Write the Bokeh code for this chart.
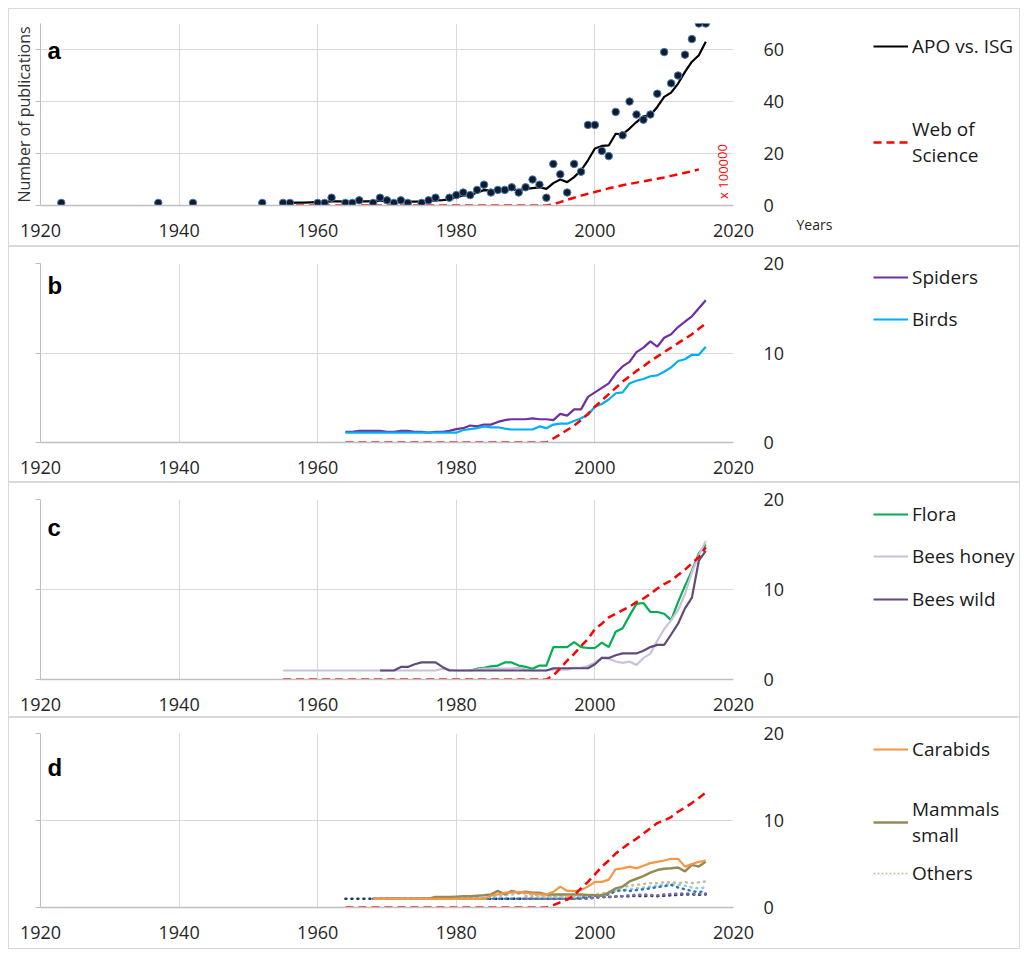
from bokeh.plotting import figure
from bokeh.layouts import column, row
from bokeh.models import Range1d, LinearAxis, FixedTicker, Legend, LegendItem, Label, Title
from bokeh.embed import file_html
from bokeh.resources import INLINE

FONT = "Open Sans"
TICK_COLOR = "#262626"
GRID = "#d9d9d9"
AXIS = "#bfbfbf"
RED = "#ff0000"

X_TICKS = [1920, 1940, 1960, 1980, 2000, 2020]

# ---------------- panel a ----------------
apo_dot_years = [1923, 1937, 1942, 1952, 1955, 1956, 1960, 1961, 1962, 1964, 1965, 1966,
                 1968, 1969, 1970, 1971, 1972, 1973, 1975, 1976, 1977, 1979, 1980, 1981,
                 1982, 1983, 1984, 1985, 1986, 1987, 1988, 1989, 1990, 1991, 1992, 1993,
                 1994, 1995, 1996, 1997, 1998, 1999, 2000, 2001, 2002, 2003, 2004, 2005,
                 2006, 2007, 2008, 2009, 2010, 2011, 2012, 2013, 2014, 2015, 2016]
apo_dot_counts = [1, 1, 1, 1, 1, 1, 1, 1, 3, 1, 1, 2,
                  1, 3, 2, 1, 2, 1, 1, 2, 3, 3, 4, 5,
                  4, 6, 8, 5, 6, 6, 7, 5, 7, 10, 8, 3,
                  16, 12, 5, 16, 13, 31, 31, 21, 19, 36, 27, 40,
                  35, 33, 35, 43, 59, 47, 50, 58, 64, 70, 70]
apo_line_years = list(range(1955, 2017))
apo_line_values = [1.0, 1.0, 1.1, 1.1, 1.2,
                   1.3, 1.4, 1.6, 1.6, 1.5, 1.5, 1.6, 1.6, 1.7, 1.8,
                   1.8, 1.7, 1.6, 1.5, 1.5, 1.6, 1.8, 2.0, 2.1, 2.3,
                   3.2, 3.9, 3.9, 5.0, 5.9, 5.8, 6.0, 6.0, 6.1, 5.9,
                   6.4, 6.7, 7.0, 6.4, 8.6, 10.0, 9.0, 10.9, 13.5, 17.4,
                   21.9, 22.9, 23.1, 27.6, 27.4, 29.6, 32.1, 34.3, 34.7, 37.9,
                   41.8, 43.4, 46.9, 51.4, 55.3, 57.8, 63.0]
wos_a_years = [1955, 1993] + list(range(1994, 2016))
wos_a_values = [0, 0, 0.5, 1.3, 2.2, 3.0, 3.8, 4.5, 5.2, 5.9, 6.6, 7.2, 7.8, 8.3,
                8.8, 9.3, 9.8, 10.3, 10.8, 11.4, 12.0, 12.6, 13.2, 13.9]

# ---------------- panel b ----------------
b_years = list(range(1964, 2017))
spiders = [1.2, 1.2, 1.3, 1.3, 1.3, 1.3, 1.2, 1.2, 1.3, 1.3, 1.2, 1.2, 1.1, 1.2, 1.2, 1.3,
           1.5, 1.6, 1.9, 1.8, 2.0, 2.0, 2.3, 2.5, 2.6, 2.6,
           2.6, 2.7, 2.6, 2.6, 2.5, 3.2, 3.0, 3.7, 3.7, 5.1,
           5.6, 6.1, 6.6, 7.7, 8.5, 9.0, 10.1, 10.6, 11.3, 10.7,
           11.7, 12.1, 12.9, 13.5, 14.1, 15.0, 15.9]
birds = [1.1, 1.1, 1.1, 1.1, 1.1, 1.1, 1.1, 1.1, 1.1, 1.1, 1.1, 1.1, 1.1, 1.1, 1.1, 1.1,
         1.1, 1.4, 1.5, 1.6, 1.8, 1.7, 1.7, 1.55, 1.45, 1.45,
         1.45, 1.45, 1.8, 1.6, 2.0, 2.1, 2.1, 2.4, 2.7, 3.1,
         4.0, 4.3, 4.8, 5.5, 5.6, 6.6, 6.9, 7.1, 7.4, 7.5,
         7.9, 8.4, 9.1, 9.3, 9.8, 9.8, 10.7]
wos_b_years = [1964, 1993] + list(range(1994, 2017))
wos_b_values = [0, 0, 0.45, 0.9, 1.4, 1.9, 2.5, 3.2, 4.0, 4.7, 5.4, 6.1, 6.8, 7.4,
                8.0, 8.5, 9.1, 9.6, 10.1, 10.6, 11.1, 11.6, 12.1, 12.7, 13.3]

# ---------------- panel c ----------------
honey_years = list(range(1955, 2017))
bees_honey = [1.0, 1.0, 1.0, 1.0, 1.0,
              1.0, 1.0, 1.0, 1.0, 1.0, 1.0, 1.0, 1.0, 1.0, 1.0,
              1.0, 1.0, 1.0, 1.0, 1.0, 1.0, 1.0, 1.0, 1.2, 1.1,
              1.0, 1.0, 1.0, 1.1, 1.2, 1.2, 1.2, 1.2, 1.2, 1.3,
              1.1, 1.0, 1.0, 1.0, 1.1, 1.1, 1.1, 1.3, 1.3, 1.5,
              1.9, 2.4, 2.3, 2.0, 1.85, 2.0, 1.6, 2.4, 2.85, 4.3,
              5.6, 6.6, 7.7, 9.5, 11.9, 13.8, 15.4]
wild_years = list(range(1969, 2017))
bees_wild = [1.0,
             1.0, 1.0, 1.4, 1.4, 1.7, 1.9, 1.9, 1.9, 1.4, 1.0,
             1.0, 1.0, 1.0, 1.0, 1.0, 1.0, 1.0, 1.0, 1.0, 1.0,
             1.0, 1.0, 1.0, 1.0, 1.25, 1.25, 1.25, 1.25, 1.25, 1.25,
             1.7, 2.4, 2.4, 2.7, 2.9, 2.9, 2.9, 3.2, 3.6, 3.85,
             3.85, 5.0, 6.2, 7.9, 9.1, 13.2, 14.3]
flora_years = list(range(1982, 2017))
flora = [1.0, 1.2, 1.3, 1.45, 1.55, 1.9, 1.9, 1.55,
         1.4, 1.2, 1.55, 1.55, 3.6, 3.6, 3.6, 4.15, 3.6, 3.5,
         3.5, 4.1, 3.6, 5.3, 5.7, 7.1, 8.4, 8.5, 7.5, 7.5,
         7.3, 6.6, 8.6, 10.4, 12.1, 14.0, 15.0]
wos_c_years = [1955, 1993] + list(range(1994, 2017))
wos_c_values = [0, 0, 0.45, 1.25, 2.1, 2.85, 3.7, 4.5, 5.6, 6.2, 6.9, 7.3, 7.7, 8.1,
                8.6, 9.0, 9.5, 10.1, 10.6, 11.0, 11.6, 12.2, 12.9, 13.6, 14.7]

# ---------------- panel d ----------------
d_years = list(range(1968, 2017))
carabids = [1.0, 1.0,
            1.0, 1.0, 1.0, 1.0, 1.0, 1.0, 1.0, 1.0, 1.0, 1.0,
            1.0, 1.0, 1.0, 1.0, 1.0, 1.35, 1.5, 1.7, 1.7, 1.8,
            1.7, 1.6, 1.5, 1.5, 1.8, 2.4, 1.9, 1.9, 2.0, 2.4,
            2.95, 2.95, 3.2, 4.4, 4.5, 4.7, 4.5, 4.8, 5.1, 5.25,
            5.4, 5.6, 5.6, 4.7, 5.0, 5.25, 5.4]
mammals = [1.0, 1.0,
           1.0, 1.0, 1.0, 1.0, 1.0, 1.0, 1.0, 1.2, 1.2, 1.2,
           1.25, 1.3, 1.3, 1.35, 1.4, 1.5, 1.9, 1.5, 1.9, 1.7,
           1.8, 1.7, 1.7, 1.5, 1.5, 1.5, 1.5, 1.5, 1.5, 1.45,
           1.4, 1.35, 1.7, 2.2, 2.4, 3.0, 3.3, 3.6, 4.0, 4.3,
           4.45, 4.5, 4.6, 4.15, 4.9, 4.7, 5.3]
o_navy_years = [1964, 1997] + list(range(1998, 2017))
o_navy = [1.0, 1.0, 1.05, 1.1, 1.15, 1.2, 1.2, 1.25, 1.3, 1.3, 1.35, 1.3, 1.35,
          1.3, 1.35, 1.4, 1.45, 1.5, 1.5, 1.45, 1.5]
o_blue_years = [1968, 1997] + list(range(1998, 2017))
o_blue = [1.0, 1.0, 1.1, 1.25, 1.35, 1.4, 1.5, 1.9, 2.0, 1.9, 2.0, 2.1, 2.2,
          2.35, 2.45, 2.6, 2.3, 2.1, 1.9, 1.75, 1.95]
o_light_years = [1976, 1984] + list(range(1985, 2017))
o_light = [1.0, 1.0, 1.2, 1.3, 1.4, 1.5, 1.6, 1.6, 1.5, 1.4, 1.3, 1.3, 1.3, 1.2,
           1.2, 1.2, 1.3, 1.4, 1.5, 1.6, 1.9, 2.0, 2.1, 2.2, 2.3, 2.4, 2.5, 2.6,
           2.7, 2.6, 2.5, 2.3, 2.2, 2.3]
o_tan_years = list(range(1990, 2017))
o_tan = [1.3, 1.3, 1.2, 1.2, 1.2, 1.2, 1.2, 1.2, 1.3, 1.4,
         1.5, 1.6, 1.8, 2.1, 2.3, 2.5, 2.6, 2.7, 2.8, 2.8,
         2.9, 2.9, 2.8, 2.9, 2.8, 2.9, 3.0]
o_purple_years = [1990, 1999] + list(range(2000, 2017))
o_purple = [1.0, 1.0, 1.1, 1.2, 1.2, 1.3, 1.3, 1.4, 1.45, 1.5, 1.45, 1.4, 1.5,
            1.55, 1.6, 1.6, 1.6, 1.55, 1.6]
wos_d_years = [1964, 1993] + list(range(1994, 2017))
wos_d_values = [0, 0, 0.27, 0.6, 0.9, 1.4, 2.2, 2.95, 3.8, 4.7, 5.4, 6.2, 6.8, 7.4,
                7.9, 8.5, 9.1, 9.7, 10.0, 10.4, 11.0, 11.5, 12.0, 12.6, 13.2]

for xs, ys in [(apo_dot_years, apo_dot_counts), (apo_line_years, apo_line_values),
               (wos_a_years, wos_a_values), (b_years, spiders), (b_years, birds),
               (wos_b_years, wos_b_values), (honey_years, bees_honey), (wild_years, bees_wild),
               (flora_years, flora), (wos_c_years, wos_c_values), (d_years, carabids),
               (d_years, mammals), (o_navy_years, o_navy), (o_blue_years, o_blue),
               (o_light_years, o_light), (o_tan_years, o_tan), (o_purple_years, o_purple),
               (wos_d_years, wos_d_values)]:
    assert len(xs) == len(ys), (len(xs), len(ys), xs[0])

MAIN_W = 784
LEG_W = 226

WOS_STYLE = dict(line_color=RED, line_width=2.5, line_dash="8 5")
DOT_STYLE = dict(line_width=2.5, line_dash="1 5", line_cap="round")


def make_panel(height, top, bottom, ymax, yticks, letter, letter_off):
    p = figure(width=MAIN_W, height=height, x_range=Range1d(1920, 2020), y_range=Range1d(0, ymax),
               y_axis_location="right", output_backend="svg", toolbar_location=None,
               min_border_left=31, min_border_right=MAIN_W - 31 - 693, min_border_top=top,
               min_border_bottom=bottom, background_fill_color="white",
               border_fill_color="white")
    p.outline_line_color = None
    xa = p.xaxis[0]
    xa.ticker = FixedTicker(ticks=X_TICKS)
    xa.axis_line_color = AXIS
    xa.axis_line_width = 1.5
    xa.major_tick_line_color = None
    xa.minor_tick_line_color = None
    xa.major_label_text_font = FONT
    xa.major_label_text_font_size = "18px"
    xa.major_label_text_color = TICK_COLOR
    xa.major_label_standoff = 12
    ya = p.yaxis[0]
    ya.ticker = FixedTicker(ticks=yticks)
    ya.axis_line_color = None
    ya.major_tick_line_color = None
    ya.minor_tick_line_color = None
    ya.major_label_text_font = FONT
    ya.major_label_text_font_size = "18px"
    ya.major_label_text_color = TICK_COLOR
    ya.major_label_standoff = 24
    p.xgrid.ticker = FixedTicker(ticks=X_TICKS)
    p.ygrid.ticker = FixedTicker(ticks=[t for t in yticks if t > 0])
    p.xgrid.grid_line_color = GRID
    p.ygrid.grid_line_color = GRID
    left = LinearAxis(ticker=FixedTicker(ticks=yticks), axis_line_color=AXIS,
                      major_tick_line_color=AXIS, major_tick_out=5, major_tick_in=0,
                      minor_tick_line_color=None, major_label_text_font_size="1px",
                      major_label_text_alpha=0, major_label_standoff=0)
    p.add_layout(left, "left")
    frame_h = height - top - bottom
    p.add_layout(Label(x=7, y=frame_h - letter_off, x_units="screen", y_units="screen",
                       text=letter, text_font="Liberation Sans", text_font_style="bold",
                       text_font_size="24px", text_color="black", text_baseline="middle",
                       text_align="left", background_fill_color="white"))
    return p, left


def make_legend_fig(height, entries):
    # legend-only companion figure; its frame is aligned with the panel's frame
    lf = figure(width=LEG_W, height=height, x_range=Range1d(0, 1), y_range=Range1d(0, 1),
                output_backend="svg", toolbar_location=None, min_border=0,
                x_axis_type=None, y_axis_type=None, background_fill_color="white",
                border_fill_color="white")
    lf.outline_line_color = None
    for label, xs, ys, style, y in entries:
        r = lf.line(xs, ys, **style)  # lies outside this figure's range: only its legend shows
        lg = Legend(items=[LegendItem(label=label, renderers=[r])], location=(80, y),
                    orientation="vertical", padding=0, margin=0, spacing=0,
                    glyph_width=35, glyph_height=24, label_height=24, label_standoff=4,
                    label_text_font=FONT, label_text_font_size="19px",
                    label_text_color="#1a1a1a", background_fill_alpha=0,
                    border_line_color=None)
        lf.add_layout(lg)
    return lf


# ---- panel a ----
pa, left_a = make_panel(236, 14, 40, 70, [0, 20, 40, 60], "a", 27)
left_a.axis_label = "Number of publications"
left_a.axis_label_text_font = FONT
left_a.axis_label_text_font_size = "16px"
left_a.axis_label_text_font_style = "normal"
left_a.axis_label_text_color = "#333333"
left_a.axis_label_standoff = 1
pa.line(wos_a_years, wos_a_values, **WOS_STYLE)
pa.line(apo_line_years, apo_line_values, line_color="black", line_width=2.2)
pa.scatter(apo_dot_years, apo_dot_counts, size=7.5, marker="circle", fill_color="#0f1c2e",
           line_color="#4a7ab5", line_width=1)
pa.add_layout(Label(x=682, y=34, x_units="screen", y_units="screen", text="x 100000",
                    angle=1.5708, text_color=RED, text_font=FONT, text_font_size="13px",
                    text_align="center", text_baseline="middle"))
la = make_legend_fig(236, [
    ("APO vs. ISG", apo_line_years, apo_line_values, dict(line_color="black", line_width=2.2), 146),
    ("Web of\nScience", wos_a_years, wos_a_values, WOS_STYLE, 37)])
la.add_layout(Title(text="Years", align="left", offset=3, standoff=14, text_font=FONT,
                    text_font_size="14px", text_font_style="normal", text_color="#262626"),
              "below")

# ---- panel b ----
pb, _ = make_panel(234, 16, 39, 20, [0, 10, 20], "b", 22)
pb.line(b_years, spiders, line_color="#7030a0", line_width=2.2)
pb.line(b_years, birds, line_color="#00b0f0", line_width=2.2)
pb.line(wos_b_years, wos_b_values, **WOS_STYLE)
lb = make_legend_fig(234, [
    ("Spiders", b_years, spiders, dict(line_color="#7030a0", line_width=2.2), 152),
    ("Birds", b_years, birds, dict(line_color="#00b0f0", line_width=2.2), 110)])

# ---- panel c ----
pc, _ = make_panel(233, 16, 37, 20, [0, 10, 20], "c", 28)
pc.line(flora_years, flora, line_color="#00b050", line_width=2.2)
pc.line(honey_years, bees_honey, line_color="#ccc0da", line_width=2.2)
pc.line(wild_years, bees_wild, line_color="#604a7b", line_width=2.2)
pc.line(wos_c_years, wos_c_values, **WOS_STYLE)
lc = make_legend_fig(233, [
    ("Flora", flora_years, flora, dict(line_color="#00b050", line_width=2.2), 152),
    ("Bees honey", honey_years, bees_honey, dict(line_color="#ccc0da", line_width=2.2), 110),
    ("Bees wild", wild_years, bees_wild, dict(line_color="#604a7b", line_width=2.2), 67)])

# ---- panel d ----
pd_, _ = make_panel(230, 15, 41, 20, [0, 10, 20], "d", 34)
pd_.line(o_navy_years, o_navy, line_color="#1f3864", **DOT_STYLE)
pd_.line(o_light_years, o_light, line_color="#92cddc", **DOT_STYLE)
pd_.line(o_purple_years, o_purple, line_color="#7f6aa8", **DOT_STYLE)
pd_.line(o_blue_years, o_blue, line_color="#2e75b6", **DOT_STYLE)
pd_.line(o_tan_years, o_tan, line_color="#c4bd97", **DOT_STYLE)
pd_.line(d_years, mammals, line_color="#948a54", line_width=2.5)
pd_.line(d_years, carabids, line_color="#f79646", line_width=2.2)
pd_.line(wos_d_years, wos_d_values, **WOS_STYLE)
ld = make_legend_fig(230, [
    ("Carabids", d_years, carabids, dict(line_color="#f79646", line_width=2.2), 145),
    ("Mammals\nsmall", d_years, mammals, dict(line_color="#948a54", line_width=2.5), 59),
    ("Others", o_tan_years, o_tan, dict(line_color="#c4bd97", line_width=1.5,
                                        line_dash="2 2"), 21)])

BOX = {"border": "1px solid #d9d9d9"}
rows = [row(pa, la, styles=BOX), row(pb, lb, styles=BOX),
        row(pc, lc, styles=BOX), row(pd_, ld, styles=BOX)]
layout = column(*rows, spacing=0, styles={"margin-left": "8px", "margin-top": "8px"})
open("out.html", "w").write(file_html(layout, INLINE))
